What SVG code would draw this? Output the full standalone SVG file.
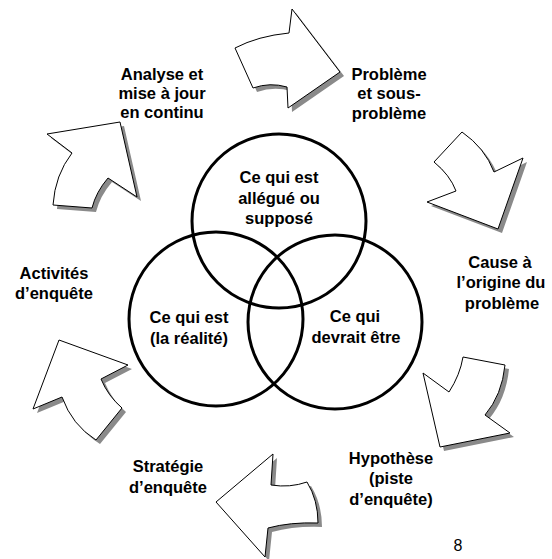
<svg xmlns="http://www.w3.org/2000/svg" width="552" height="559" viewBox="0 0 552 559">
<style>
.sh{fill:#8a8a8a;stroke:none}
.ar{fill:#fff;stroke:#000;stroke-width:1;stroke-linejoin:miter}
.c{fill:none;stroke:#000;stroke-width:3}
text{font-family:"Liberation Sans",Arial,sans-serif;font-weight:bold;font-size:16.5px;fill:#000;text-anchor:middle}
</style>
<defs>
<path id="a1" d="M292,9 L289,33 Q258,36 235,48 L253,88 Q270,82 287,87 L288,108 L340,72 Z"/>
<path id="a2" d="M462,132 L434,162 Q450,175 456,191 L427,202 L498,229 L523,158 L494,172 Q485,148 462,132 Z"/>
<path id="a3" d="M423,373 L449,392 Q460,375 463,357 L505,365 Q502,395 485,415 L510,433 L440,447 Z"/>
<path id="a4" d="M273,454 L271,485 Q290,488 307,482 Q318,500 318,523 Q290,522 268,528 L265,557 L216,502 Z"/>
<path id="a5" d="M59,340 L128,365 L101,379 Q108,396 122,408 L96,440 Q72,425 62,397 L33,409 Z"/>
<path id="a6" d="M47,134 L120,122 L137,197 L108,178 Q96,192 92,208 L53,205 Q55,175 72,153 Z"/>
</defs>
<g id="arrow-top"><use href="#a1" class="sh" transform="translate(4,4)"/><use href="#a1" class="ar"/></g>
<g id="arrow-right-top"><use href="#a2" class="sh" transform="translate(4,4)"/><use href="#a2" class="ar"/></g>
<g id="arrow-right-bottom"><use href="#a3" class="sh" transform="translate(4,4)"/><use href="#a3" class="ar"/></g>
<g id="arrow-bottom"><use href="#a4" class="sh" transform="translate(4,4)"/><use href="#a4" class="ar"/></g>
<g id="arrow-left-bottom"><use href="#a5" class="sh" transform="translate(4,4)"/><use href="#a5" class="ar"/></g>
<g id="arrow-left-top"><use href="#a6" class="sh" transform="translate(4,4)"/><use href="#a6" class="ar"/></g>
<g id="circle-top"><circle class="c" cx="279" cy="221" r="87"/><text x="279" y="183">Ce qui est</text><text x="279" y="204">allégué ou</text><text x="279" y="224">supposé</text></g>
<g id="circle-left"><circle class="c" cx="216" cy="319" r="87"/><text x="189" y="323">Ce qui est</text><text x="189" y="344">(la réalité)</text></g>
<g id="circle-right"><circle class="c" cx="335" cy="322" r="87"/><text x="355" y="322">Ce qui</text><text x="356" y="343">devrait être</text></g>
<g id="label-analyse"><text x="162" y="80">Analyse et</text><text x="162" y="99">mise à jour</text><text x="162" y="118">en continu</text></g>
<g id="label-probleme"><text x="389" y="80">Problème</text><text x="389" y="99">et sous-</text><text x="389" y="119">problème</text></g>
<g id="label-cause"><text x="500" y="268">Cause à</text><text x="501" y="288">l’origine du</text><text x="502" y="309">problème</text></g>
<g id="label-hypothese"><text x="391" y="464">Hypothèse</text><text x="391" y="484">(piste</text><text x="391" y="505">d’enquête)</text></g>
<g id="label-strategie"><text x="168" y="472">Stratégie</text><text x="168" y="493">d’enquête</text></g>
<g id="label-activites"><text x="54" y="279">Activités</text><text x="54" y="299">d’enquête</text></g>
<text x="458" y="551" style="font-weight:normal;font-size:16px">8</text>
</svg>
